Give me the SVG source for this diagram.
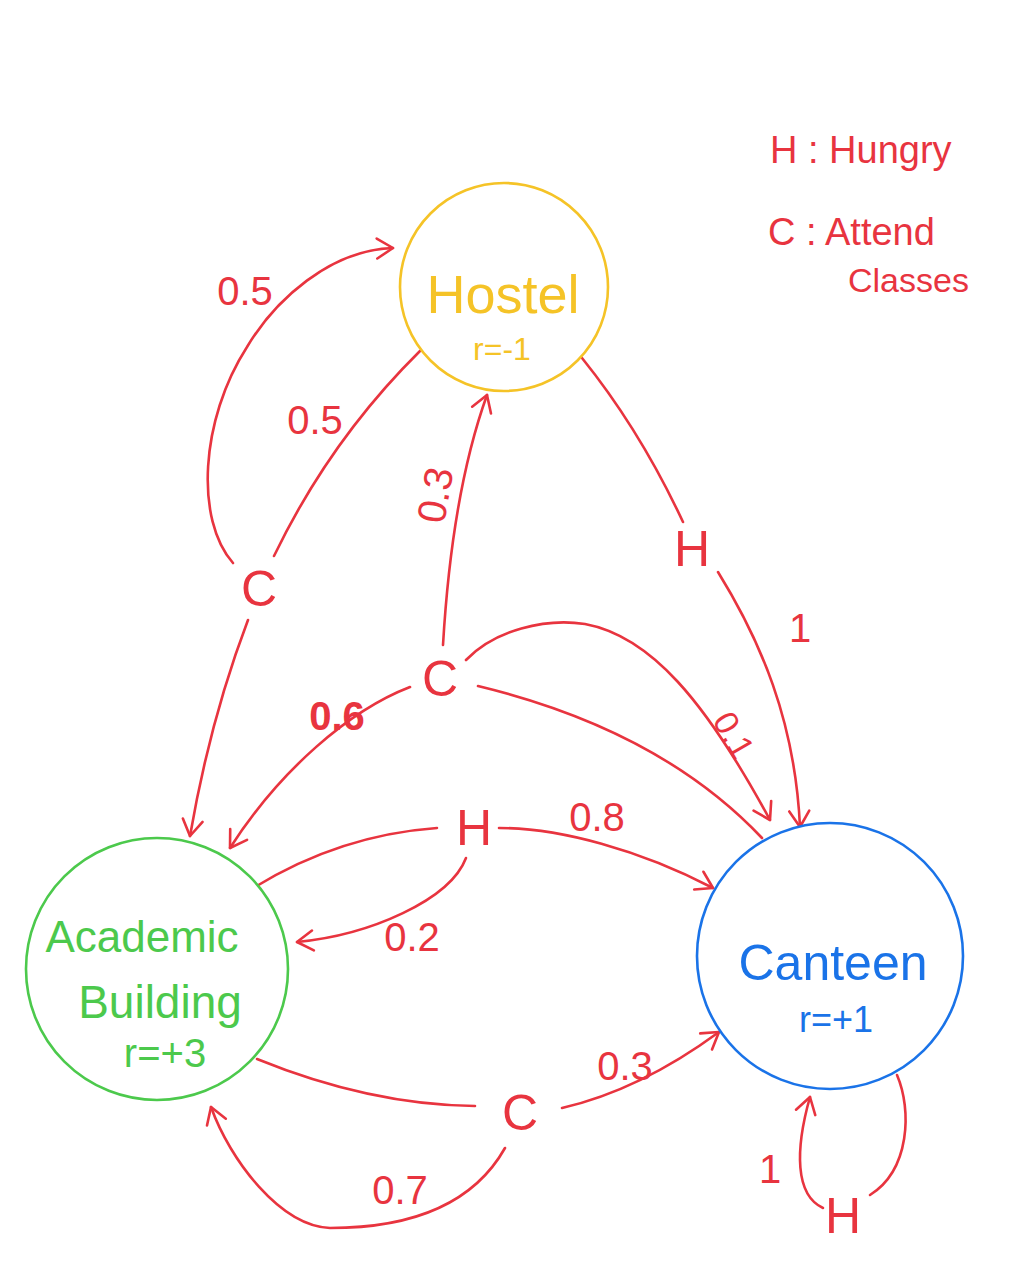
<svg xmlns="http://www.w3.org/2000/svg" width="1023" height="1280" viewBox="0 0 1023 1280">
<style>
.e{fill:none;stroke:#E8343F;stroke-width:2.6;stroke-linecap:round;stroke-linejoin:round}
.a{marker-end:url(#ah)}
.t{font-family:"Liberation Sans",Arial,sans-serif;text-anchor:middle}
.r{fill:#E8343F}
.lb{font-size:40px}
.act{font-size:50px}
.st{fill:#fff;stroke-width:2.6}
</style>
<defs>
<marker id="ah" markerUnits="userSpaceOnUse" viewBox="-20 -15 30 30" refX="0" refY="0" markerWidth="30" markerHeight="30" orient="auto" overflow="visible">
<path d="M-16,-10 L0,0 L-16,10" fill="none" stroke="#E8343F" stroke-width="2.6" stroke-linecap="round" stroke-linejoin="round"/>
</marker>
</defs>
<rect width="1023" height="1280" fill="#fff"/>

<g id="connectors">
<path class="e" d="M420,351 Q330,440 274,556"/>
<path class="e a" d="M233,563 C195,520 200,420 247,347 C275,300 330,250 393,248"/>
<path class="e a" d="M248,620 Q210,720 190,836"/>
<path class="e a" d="M443,645 C448,560 460,470 487,395"/>
<path class="e a" d="M410,687 C350,710 280,770 230,848"/>
<path class="e a" d="M466,660 C495,630 545,618 585,624 C650,636 705,700 770,820"/>
<path class="e" d="M478,686 Q660,730 762,838"/>
<path class="e" d="M582,358 Q640,430 683,522"/>
<path class="e a" d="M718,572 C760,640 795,720 800,827"/>
<path class="e" d="M255,887 Q340,835 437,828"/>
<path class="e a" d="M499,828 C560,828 640,850 713,888"/>
<path class="e a" d="M466,858 C450,900 370,935 297,942"/>
<path class="e" d="M257,1059 Q370,1105 475,1106"/>
<path class="e a" d="M562,1108 Q640,1090 719,1032"/>
<path class="e a" d="M505,1148 C470,1210 400,1228 330,1228 C280,1226 230,1160 211,1107"/>
<path class="e" d="M897,1075 C912,1110 910,1170 870,1195"/>
<path class="e a" d="M823,1208 C795,1195 795,1150 810,1097"/>
<g class="t r lb">
<text x="245" y="305">0.5</text>
<text x="315" y="434">0.5</text>
<text transform="translate(435,495) rotate(-80)" y="14">0.3</text>
<text x="337" y="730" font-weight="bold">0.6</text>
<text transform="translate(734,735) rotate(60)" y="12" font-size="34">0.1</text>
<text x="800" y="642">1</text>
<text x="597" y="831">0.8</text>
<text x="412" y="951">0.2</text>
<text x="625" y="1080">0.3</text>
<text x="400" y="1204">0.7</text>
<text x="770" y="1183">1</text>
</g>
</g>

<g id="hostel">
<circle class="st" cx="504" cy="287" r="104" stroke="#F5C327"/>
<text class="t" x="503" y="313" font-size="54" fill="#F5C327">Hostel</text>
<text class="t" x="502" y="360" font-size="32" fill="#F5C327">r=-1</text>
</g>
<g id="academic">
<circle class="st" cx="157" cy="969" r="131" stroke="#4CC94C"/>
<text class="t" x="142" y="952" font-size="44" fill="#4CC94C">Academic</text>
<text class="t" x="160" y="1018" font-size="46" fill="#4CC94C">Building</text>
<text class="t" x="165" y="1067" font-size="40" fill="#4CC94C">r=+3</text>
</g>
<g id="canteen">
<circle class="st" cx="830" cy="956" r="133" stroke="#1A73E8"/>
<text class="t" x="833" y="980" font-size="50" fill="#1A73E8">Canteen</text>
<text class="t" x="836" y="1032" font-size="36" fill="#1A73E8">r=+1</text>
</g>

<g id="act-c-hostel"><text class="t r act" x="259" y="606">C</text></g>
<g id="act-c-canteen"><text class="t r act" x="440" y="696">C</text></g>
<g id="act-h-hostel"><text class="t r act" x="692" y="566">H</text></g>
<g id="act-h-academic"><text class="t r act" x="474" y="845">H</text></g>
<g id="act-c-academic"><text class="t r act" x="520" y="1130">C</text></g>
<g id="act-h-canteen"><text class="t r act" x="843" y="1233">H</text></g>

<g id="legend" class="r" font-family="Liberation Sans, Arial, sans-serif">
<text x="770" y="163" font-size="38">H : Hungry</text>
<text x="768" y="245" font-size="38">C : Attend</text>
<text x="848" y="292" font-size="34">Classes</text>
</g>
</svg>
